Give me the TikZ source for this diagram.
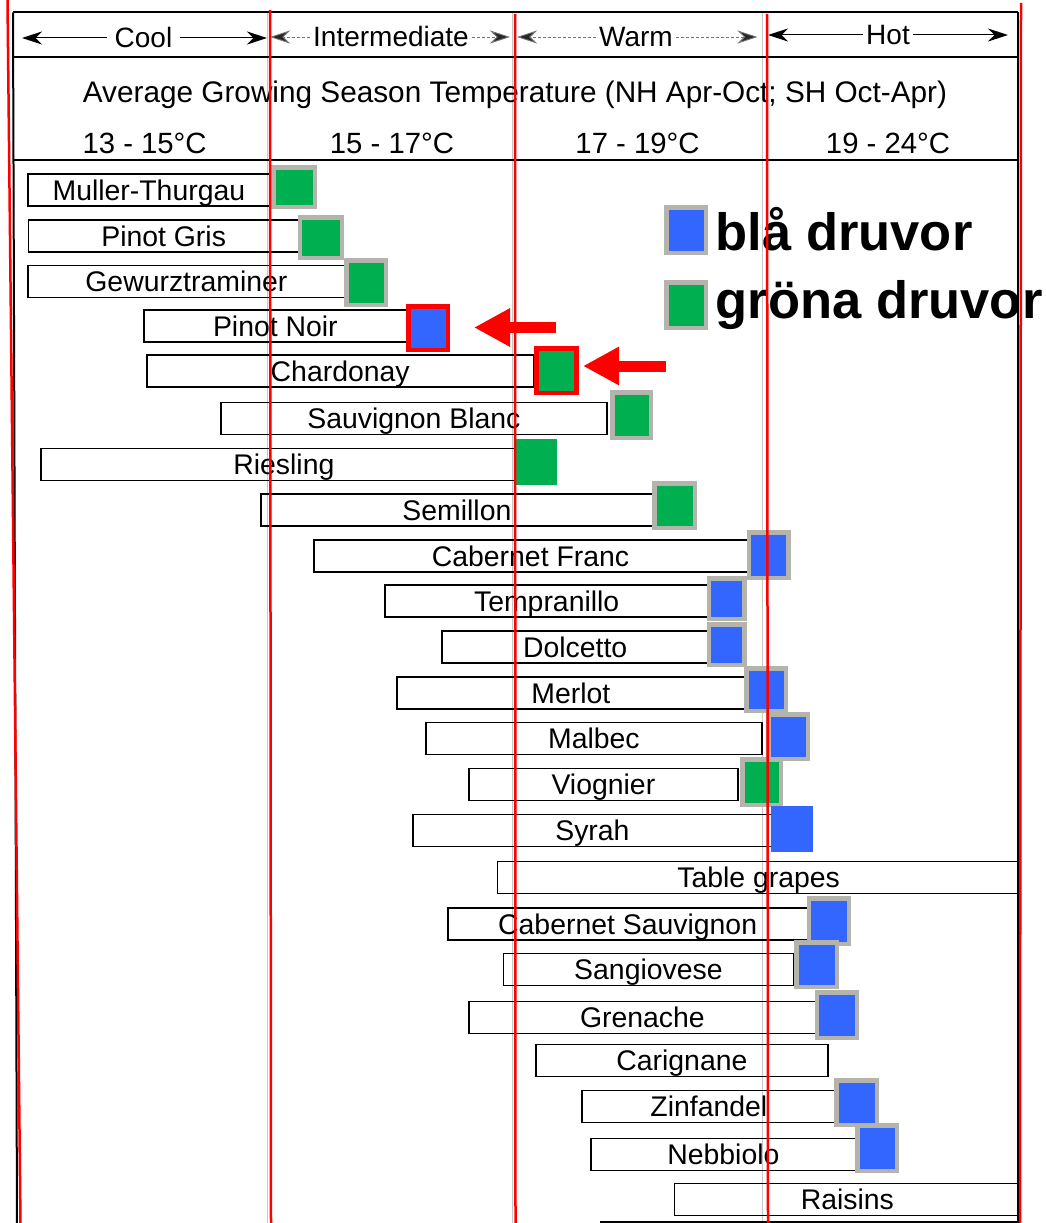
\documentclass[tikz,border=0pt]{standalone}
\usepackage{fontspec}
\setmainfont{Liberation Sans}
\usetikzlibrary{arrows.meta}
\definecolor{blu}{RGB}{51,102,255}
\definecolor{grn}{RGB}{0,176,80}
\definecolor{sqgray}{RGB}{180,180,172}
\definecolor{redl}{RGB}{255,0,0}
\begin{document}
\begin{tikzpicture}[x=1pt,y=-1pt,
  frame/.style={draw=black, line width=2pt},
  guide/.style={draw=black!22, line width=1pt},
  redline/.style={draw=redl, line width=2.5pt},
  bar/.style={draw=black, line width=1.8pt, anchor=west, minimum height=32pt, inner sep=0pt,
    font=\fontsize{28.4}{30}\selectfont, text height=22pt, text depth=1.7pt},
  sq/.style={draw=sqgray, line width=4.5pt, inner sep=0pt},
  sqred/.style={draw=redl, line width=4.5pt, inner sep=0pt},
  sqplain/.style={draw=none, inner sep=0pt},
  hdr/.style={font=\fontsize{28}{30}\selectfont, inner ysep=0pt, inner xsep=3pt, text height=20pt, text depth=0pt, anchor=base},
  hdrsolid/.style={draw=black, line width=1pt, -{Stealth[length=20pt,width=13pt]}},
  hdrdash/.style={draw=black!55, line width=0.9pt, dash pattern=on 3pt off 2pt, -{Stealth[length=20pt,width=13pt,fill=black!85]}},
  tmp/.style={font=\fontsize{29.3}{31}\selectfont, inner sep=0pt, anchor=base},
  leg/.style={font=\fontsize{52.5}{56}\selectfont\bfseries, inner sep=0pt, anchor=base west},
  redarrow/.style={draw=redl, line width=11pt, -{Triangle[length=36pt,width=36pt]}}
]
\useasboundingbox (0,0) rectangle (1046,1223);
\fill[white] (0,0) rectangle (1046,1223);

% faint guide lines
\draw[guide] (267,12.5) -- (267,1223);
\draw[guide] (512,12.5) -- (512,1223);
\draw[guide] (762,12.5) -- (762,1223);

% frame
\draw[frame] (13,12.5) -- (1018,12.5);
\draw[frame] (13,12.5) -- (17,1223);
\draw[frame] (1018,12.5) -- (1018,1223);
\draw[frame] (13,57) -- (1018,57);
\draw[frame] (13,160) -- (1018,160);
\draw[frame, line width=1.5pt] (600,1222) -- (1018,1222);

% header categories
\node[hdr, inner xsep=8pt] (cool) at (143.5,48) {Cool};
\coordinate (coolL) at (22,38);
\coordinate (coolR) at (267,38);
\draw[hdrsolid] (cool.west) -- (coolL);
\draw[hdrsolid] (cool.east) -- (coolR);

\node[hdr] (inter) at (391,47) {Intermediate};
\coordinate (interL) at (270,37);
\coordinate (interR) at (510,37);
\draw[hdrdash] (inter.west) -- (interL);
\draw[hdrdash] (inter.east) -- (interR);

\node[hdr] (warm) at (636,47) {Warm};
\coordinate (warmL) at (517,37);
\coordinate (warmR) at (757.5,37);
\draw[hdrdash] (warm.west) -- (warmL);
\draw[hdrdash] (warm.east) -- (warmR);

\node[hdr] (hot) at (888,45) {Hot};
\coordinate (hotL) at (768,35);
\coordinate (hotR) at (1008,35);
\draw[hdrsolid] (hot.west) -- (hotL);
\draw[hdrsolid] (hot.east) -- (hotR);

% title and temperature ranges
\node[anchor=base, font=\fontsize{29.75}{32}\selectfont, inner sep=0pt] (title) at (515,102)
  {Average Growing Season Temperature (NH Apr-Oct; SH Oct-Apr)};
\node[tmp] (t1) at (144.6,153) {13 - 15°C};
\node[tmp] (t2) at (392,153) {15 - 17°C};
\node[tmp] (t3) at (637.5,153) {17 - 19°C};
\node[tmp] (t4) at (888,153) {19 - 24°C};

% bars
\node[bar, minimum width=242pt] (b1) at (27,190) {Muller-Thurgau};
\node[bar, minimum width=270.5pt] (b2) at (27.5,236) {Pinot Gris};
\node[bar, minimum width=317pt] (b3) at (27,281.5) {Gewurztraminer};
\node[bar, minimum width=263pt] (b4) at (143,326) {Pinot Noir};
\node[bar, minimum width=386.6pt] (b5) at (146,371) {Chardonay};
\node[bar, minimum width=386pt] (b6) at (220,418.5) {Sauvignon Blanc};
\node[bar, minimum width=474pt] (b7) at (40,464.5) {\hspace*{12pt}Riesling};
\node[bar, minimum width=392pt] (b8) at (260,510) {Semillon};
\node[bar, minimum width=433.8pt] (b9) at (312.7,556) {Cabernet Franc};
\node[bar, minimum width=323.5pt] (b10) at (384,601) {Tempranillo};
\node[bar, minimum width=266.5pt] (b11) at (441,647) {Dolcetto};
\node[bar, minimum width=348pt] (b12) at (396,693) {Merlot};
\node[bar, minimum width=336pt] (b13) at (425,738.5) {Malbec};
\node[bar, minimum width=269pt] (b14) at (468,784.5) {Viognier};
\node[bar, minimum width=359pt] (b15) at (412,830.5) {Syrah};
\node[bar, minimum width=522.2pt] (b16) at (496.6,877.5) {Table grapes};
\node[bar, minimum width=359.5pt] (b17) at (447,924) {Cabernet Sauvignon};
\node[bar, minimum width=289.9pt] (b18) at (502.6,969.5) {Sangiovese};
\node[bar, minimum width=347pt] (b19) at (468,1017.5) {Grenache};
\node[bar, minimum width=292pt] (b20) at (535,1060.5) {Carignane};
\node[bar, minimum width=254pt] (b21) at (581,1106.5) {Zinfandel};
\node[bar, minimum width=265pt] (b22) at (590,1154.5) {Nebbiolo};
\node[bar, minimum width=346pt] (b23) at (673.5,1199.5) {Raisins};

% grape colour squares
\node[sq, fill=grn, minimum width=41.5pt, minimum height=39.5pt] (s1) at (294,187) {};
\node[sq, fill=grn, minimum width=42pt, minimum height=40.5pt] (s2) at (320.75,237.5) {};
\node[sq, fill=grn, minimum width=39.5pt, minimum height=44.5pt] (s3) at (366,282.5) {};
\node[sqred, fill=blu, minimum width=39.5pt, minimum height=43.5pt] (s4) at (428,328) {};
\node[sqred, fill=grn, minimum width=40pt, minimum height=44.5pt] (s5) at (556.3,370.5) {};
\node[sq, fill=grn, minimum width=38.5pt, minimum height=45.5pt] (s6) at (631.5,415) {};
\node[sqplain, fill=grn, minimum width=42.5pt, minimum height=46pt] (s7) at (535.25,462) {};
\node[sq, fill=grn, minimum width=40.5pt, minimum height=44.5pt] (s8) at (674.5,505.5) {};
\node[sq, fill=blu, minimum width=39.5pt, minimum height=45.5pt] (s9) at (768.5,555) {};
\node[sq, fill=blu, minimum width=35.5pt, minimum height=40.5pt] (s10) at (726.5,598.5) {};
\node[sq, fill=blu, minimum width=35.5pt, minimum height=40.5pt] (s11) at (726.5,644.5) {};
\node[sq, fill=blu, minimum width=39.5pt, minimum height=42.5pt] (s12) at (766,689.5) {};
\node[sq, fill=blu, minimum width=39.5pt, minimum height=44.5pt] (s13) at (788,736.5) {};
\node[sq, fill=grn, minimum width=38.5pt, minimum height=45.5pt] (s14) at (761.5,782) {};
\node[sqplain, fill=blu, minimum width=41.5pt, minimum height=46pt] (s15) at (791.75,829) {};
\node[sq, fill=blu, minimum width=40pt, minimum height=45.5pt] (s16) at (828.75,921) {};
\node[sq, fill=blu, minimum width=40.5pt, minimum height=44.5pt] (s17) at (816.5,964.5) {};
\node[sq, fill=blu, minimum width=40pt, minimum height=45.5pt] (s18) at (836.75,1015) {};
\node[sq, fill=blu, minimum width=40.5pt, minimum height=44.5pt] (s19) at (856.5,1102.5) {};
\node[sq, fill=blu, minimum width=39.5pt, minimum height=45.5pt] (s20) at (877,1148) {};

% red arrows pointing at Pinot Noir and Chardonay
\coordinate (a1s) at (556,327.5);
\coordinate (a1t) at (474,327.5);
\draw[redarrow] (a1s) -- (a1t);
\coordinate (a2s) at (666,366);
\coordinate (a2t) at (583,366);
\draw[redarrow] (a2s) -- (a2t);

% legend
\node[sq, fill=blu, minimum width=39.5pt, minimum height=45.5pt] (lb) at (686,230) {};
\node[sq, fill=grn, minimum width=39.5pt, minimum height=45.5pt] (lg) at (686,305) {};
\node[leg] (lbt) at (715.6,250) {blå druvor};
\node[leg] (lgt) at (715.6,318) {gröna druvor};

% red vertical lines on top
\draw[redline] (7.5,0) -- (20.5,1223);
\draw[redline] (270,10) -- (271,1223);
\draw[redline] (515,14) -- (515.5,1223);
\draw[redline] (767,14) -- (768,1223);
\draw[redline] (1021,3) -- (1020,1223);
\end{tikzpicture}
\end{document}
